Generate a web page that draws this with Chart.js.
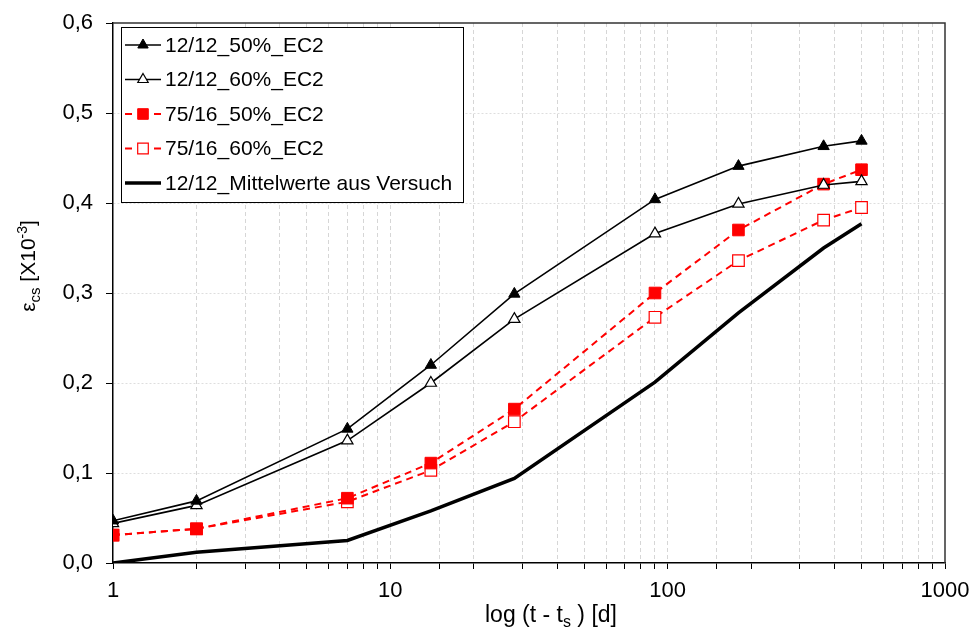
<!DOCTYPE html>
<html>
<head>
<meta charset="utf-8">
<script src="https://cdn.jsdelivr.net/npm/chart.js@4"></script>
<style>
  html, body { margin: 0; padding: 0; background: #fff; }
  #wrap { width: 974px; height: 633px; }
</style>
</head>
<body>
<div id="wrap"><canvas id="shrinkChart" width="974" height="633"></canvas></div>
<script>
// days after start of drying (t - ts)
const days = [1, 2, 7, 14, 28, 90, 180, 365, 500];

const ec2_1212_50 = [0.047, 0.069, 0.149, 0.220, 0.299, 0.404, 0.441, 0.463, 0.469];
const ec2_1212_60 = [0.044, 0.064, 0.136, 0.200, 0.271, 0.366, 0.399, 0.420, 0.424];
const ec2_7516_50 = [0.031, 0.038, 0.072, 0.111, 0.171, 0.300, 0.370, 0.421, 0.437];
const ec2_7516_60 = [0.031, 0.038, 0.068, 0.103, 0.157, 0.273, 0.336, 0.381, 0.395];
const mean_1212  = [0.000, 0.012, 0.025, 0.058, 0.094, 0.201, 0.278, 0.350, 0.377];

const seriesNames = [
    '12/12_50%_EC2',
    '12/12_60%_EC2',
    '75/16_50%_EC2',
    '75/16_60%_EC2',
    '12/12_Mittelwerte aus Versuch'
];
const xTickLabels = [1, 10, 100, 1000];

const FONT = "'Liberation Sans', Arial, sans-serif";
const toPoints = vals => vals.map((v, i) => ({ x: days[i], y: v }));

const datasets = [
    { label: seriesNames[0], data: toPoints(ec2_1212_50), borderColor: '#000', borderWidth: 1.6,
      pointStyle: 'triangle', pointRadius: 6.5, pointBackgroundColor: '#000', pointBorderColor: '#000', pointBorderWidth: 1 },
    { label: seriesNames[1], data: toPoints(ec2_1212_60), borderColor: '#000', borderWidth: 1.6,
      pointStyle: 'triangle', pointRadius: 6.5, pointBackgroundColor: '#fff', pointBorderColor: '#000', pointBorderWidth: 1.2 },
    { label: seriesNames[2], data: toPoints(ec2_7516_50), borderColor: '#ff0000', borderWidth: 2, borderDash: [7, 5],
      pointStyle: 'rect', pointRadius: 8.2, pointBackgroundColor: '#ff0000', pointBorderColor: '#ff0000', pointBorderWidth: 1 },
    { label: seriesNames[3], data: toPoints(ec2_7516_60), borderColor: '#ff0000', borderWidth: 2, borderDash: [7, 5],
      pointStyle: 'rect', pointRadius: 8.2, pointBackgroundColor: '#fff', pointBorderColor: '#ff0000', pointBorderWidth: 1.2 },
    { label: seriesNames[4], data: toPoints(mean_1212), borderColor: '#000', borderWidth: 3.5,
      pointRadius: 0 }
];

// text with sub/superscripts, parts: [text, size, dy]
function drawRich(ctx, parts, x, y) {
    let w = 0;
    parts.forEach(p => { ctx.font = p[1] + 'px ' + FONT; w += ctx.measureText(p[0]).width; });
    let cx = x - w / 2;
    ctx.textAlign = 'left';
    ctx.textBaseline = 'alphabetic';
    parts.forEach(p => {
        ctx.font = p[1] + 'px ' + FONT;
        ctx.fillText(p[0], cx, y + p[2]);
        cx += ctx.measureText(p[0]).width;
    });
}

const extras = {
    id: 'extras',
    afterDraw(chart) {
        const ctx = chart.ctx;
        const a = chart.chartArea;
        ctx.save();

        // top and right frame of the plot area
        ctx.strokeStyle = '#333';
        ctx.lineWidth = 1.5;
        ctx.beginPath();
        ctx.moveTo(a.left, a.top);
        ctx.lineTo(a.right, a.top);
        ctx.lineTo(a.right, a.bottom);
        ctx.stroke();

        ctx.fillStyle = '#000';
        // x axis title
        drawRich(ctx, [['log (t - t', 23, 0], ['s', 16, 5], [' ) [d]', 23, 0]], 551, 622);

        // y axis title (rotated)
        ctx.save();
        ctx.translate(35, 266);
        ctx.rotate(-Math.PI / 2);
        drawRich(ctx, [['\u03b5', 21, 0], ['cs', 15, 5], [' [X10', 21, 0], ['-3', 14, -8], [']', 21, 0]], 0, 0);
        ctx.restore();

        // legend box
        const bx = 121, by = 27, bw = 342, bh = 175;
        ctx.fillStyle = '#fff';
        ctx.fillRect(bx, by, bw, bh);
        ctx.strokeStyle = '#000';
        ctx.lineWidth = 1;
        ctx.strokeRect(bx + 0.5, by + 0.5, bw, bh);

        chart.data.datasets.forEach((ds, i) => {
            const ry = 45 + i * 34.5;
            ctx.save();
            ctx.strokeStyle = ds.borderColor;
            ctx.lineWidth = ds.borderWidth;
            ctx.beginPath();
            if (ds.borderDash) {
                ctx.moveTo(125, ry); ctx.lineTo(132, ry);
                ctx.moveTo(154, ry); ctx.lineTo(161, ry);
            } else {
                ctx.moveTo(125, ry); ctx.lineTo(161, ry);
            }
            ctx.stroke();
            ctx.restore();
            if (ds.pointRadius > 0) {
                ctx.save();
                ctx.fillStyle = ds.pointBackgroundColor;
                ctx.strokeStyle = ds.pointBorderColor;
                ctx.lineWidth = ds.pointBorderWidth;
                Chart.helpers.drawPoint(ctx, { pointStyle: ds.pointStyle, radius: ds.pointStyle === 'rect' ? 7.5 : 6, borderWidth: ds.pointBorderWidth, rotation: 0 }, 143, ry);
                ctx.restore();
            }
            ctx.fillStyle = '#000';
            ctx.font = '21px ' + FONT;
            ctx.textAlign = 'left';
            ctx.textBaseline = 'middle';
            ctx.fillText(ds.label, 165, ry + 1);
        });
        ctx.restore();
    }
};

new Chart(document.getElementById('shrinkChart'), {
    type: 'line',
    data: { datasets: datasets },
    plugins: [extras],
    options: {
        responsive: false,
        animation: false,
        layout: { padding: { top: 23, right: 29, left: 0, bottom: 0 } },
        plugins: { legend: { display: false }, tooltip: { enabled: false } },
        elements: { line: { tension: 0 } },
        scales: {
            x: {
                type: 'logarithmic',
                min: 1,
                max: 1000,
                afterFit: s => { s.height = 70; s.paddingLeft = 0; s.paddingRight = 0; },
                border: { display: true, color: '#000', width: 1.5, dash: [4, 3] },
                grid: {
                    color: ctx => [1, 1000].includes(ctx.tick && ctx.tick.value) ? 'rgba(0,0,0,0)' : '#d6d6d6',
                    tickColor: '#000',
                    tickLength: 6,
                    drawOnChartArea: true
                },
                ticks: {
                    autoSkip: false,
                    maxRotation: 0,
                    color: '#000',
                    font: { size: 22, family: FONT },
                    padding: 9,
                    callback: v => xTickLabels.includes(v) ? String(v) : ''
                }
            },
            y: {
                min: 0,
                max: 0.6,
                afterFit: s => { s.width = 113; s.paddingTop = 0; s.paddingBottom = 0; },
                border: { display: true, color: '#000', width: 1.5, dash: [2, 2] },
                grid: {
                    color: ctx => ctx.tick && (ctx.tick.value === 0 || ctx.tick.value > 0.59) ? 'rgba(0,0,0,0)' : '#dedede',
                    tickColor: '#000',
                    tickLength: 7
                },
                ticks: {
                    stepSize: 0.1,
                    color: '#000',
                    font: { size: 22, family: FONT },
                    padding: 13,
                    callback: v => v.toFixed(1).replace('.', ',')
                }
            }
        }
    }
});
</script>
</body>
</html>
